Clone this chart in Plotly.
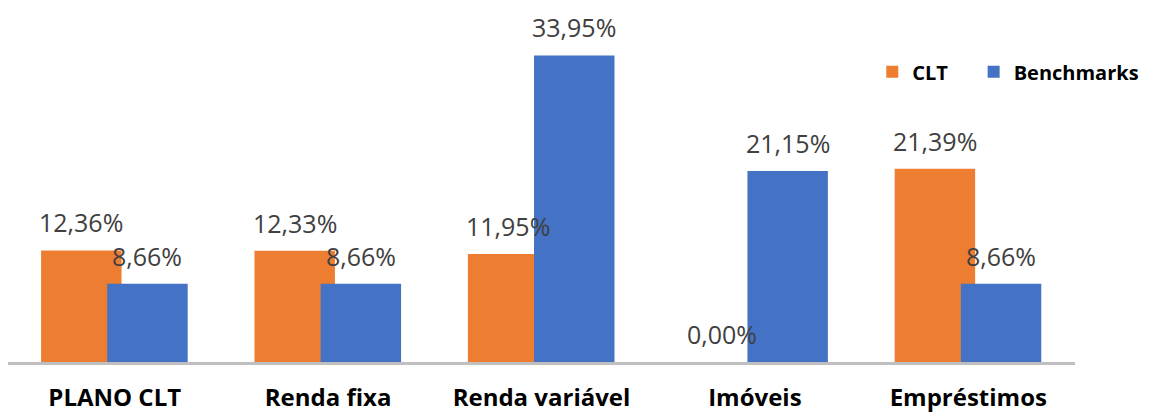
import plotly.graph_objects as go

categories = ["PLANO CLT", "Renda fixa", "Renda variável", "Imóveis", "Empréstimos"]
clt = [12.36, 12.33, 11.95, 0.00, 21.39]
benchmarks = [8.66, 8.66, 33.95, 21.15, 8.66]

ORANGE = "#ED7D31"
BLUE = "#4472C4"
BAR_W = 0.377
OFFSETS = {"CLT": -0.345, "Benchmarks": -0.035}
LEGENDS = {"CLT": "legend", "Benchmarks": "legend2"}
CAT_PX = 213  # approx pixel width of one category band


def fmt(v):
    return f"{v:.2f}".replace(".", ",") + "%"


fig = go.Figure()
for name, vals, color in [("CLT", clt, ORANGE), ("Benchmarks", benchmarks, BLUE)]:
    fig.add_trace(go.Bar(x=categories, y=vals, name=name,
                         marker=dict(color=color, line=dict(width=0)),
                         width=BAR_W, offset=OFFSETS[name],
                         legend=LEGENDS[name], hoverinfo="skip"))

# value labels above each bar
for name, vals in [("CLT", clt), ("Benchmarks", benchmarks)]:
    shift = (OFFSETS[name] + BAR_W / 2) * CAT_PX
    for c, v in zip(categories, vals):
        fig.add_annotation(x=c, y=v, text=fmt(v), showarrow=False,
                           xref="x", yref="y", xshift=shift, yshift=9,
                           yanchor="bottom",
                           font=dict(family="Open Sans", size=25, color="#404040"))

legend_style = dict(orientation="h", xanchor="left", y=0.82, yanchor="middle",
                    font=dict(family="Open Sans", size=20, color="black", weight="bold"),
                    itemwidth=30, bgcolor="rgba(0,0,0,0)")

fig.update_layout(
    width=1155, height=412,
    margin=dict(l=0, r=88, t=0, b=58, autoexpand=False),
    paper_bgcolor="white", plot_bgcolor="white",
    barmode="overlay",
    showlegend=True,
    legend=dict(x=0.81, **legend_style),
    legend2=dict(x=0.905, **legend_style),
    xaxis=dict(showline=True, linecolor="#BFBFBF", linewidth=3, ticks="",
               ticklabelstandoff=12,
               tickfont=dict(family="Open Sans", size=24, color="black", weight="bold"),
               showgrid=False),
    yaxis=dict(range=[0, 39.2], visible=False, showgrid=False),
)
fig.write_html("out.html")
